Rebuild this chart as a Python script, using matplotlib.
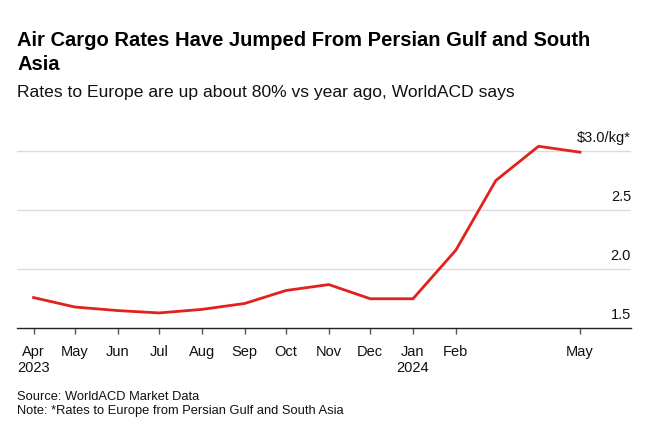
import datetime as dt
import matplotlib
matplotlib.use("Agg")
import matplotlib.pyplot as plt
import matplotlib.transforms as mtransforms

plt.rcParams['font.family'] = ['Liberation Sans', 'DejaVu Sans']

# Monthly rates, Apr 2023 - May 2024 ($/kg)
months = ["2023-04", "2023-05", "2023-06", "2023-07", "2023-08", "2023-09", "2023-10",
          "2023-11", "2023-12", "2024-01", "2024-02", "2024-03", "2024-04", "2024-05"]
rates = [1.76, 1.68, 1.65, 1.63, 1.66, 1.71, 1.82, 1.87, 1.75, 1.75, 2.16, 2.75, 3.04, 2.99]

tick_months = ["2023-04", "2023-05", "2023-06", "2023-07", "2023-08", "2023-09", "2023-10",
               "2023-11", "2023-12", "2024-01", "2024-02", "2024-05"]
tick_labels = ["Apr\n2023", "May", "Jun", "Jul", "Aug", "Sep", "Oct", "Nov", "Dec",
               "Jan\n2024", "Feb", "May"]

y_ticks = [1.5, 2.0, 2.5, 3.0]
y_labels = ["1.5", "2.0", "2.5", "$3.0/kg*"]

dates = [dt.datetime.strptime(m, "%Y-%m") for m in months]
tick_dates = [dt.datetime.strptime(m, "%Y-%m") for m in tick_months]

W, H = 660, 436
fig = plt.figure(figsize=(W / 100, H / 100), dpi=100)
ax = fig.add_axes([17 / W, 1 - 328.3 / H, (631 - 17) / W, (328.3 - 139.2) / H])

# gridlines
for v in y_ticks[1:]:
    ax.axhline(v, color='#dcdcdc', linewidth=1.0, zorder=1)

ax.plot(dates, rates, color='#e1211c', linewidth=2.0, solid_joinstyle='miter', zorder=3)

ax.set_xlim(dates[0] - dt.timedelta(days=12), dates[-1] + dt.timedelta(days=37))
ax.set_ylim(1.5, 3.1)

for s in ['top', 'right', 'left']:
    ax.spines[s].set_visible(False)
ax.spines['bottom'].set_color('#222222')
ax.spines['bottom'].set_linewidth(1.0)

ax.set_xticks(tick_dates)
ax.set_xticklabels(tick_labels, fontsize=10.5, color='#111111', linespacing=1.2)
ax.tick_params(axis='x', length=4, width=1, color='#555555', pad=8)
ax.set_yticks([])

# y labels above gridlines, right aligned
offset = mtransforms.offset_copy(ax.get_yaxis_transform(), fig=fig, x=0, y=6, units='dots')
for v, lab in zip(y_ticks, y_labels):
    ax.text(1.0, v, lab, transform=offset, ha='right', va='bottom',
            fontsize=10.5, color='#111111')

fig.text(17 / W, 1 - 46.5 / H, "Air Cargo Rates Have Jumped From Persian Gulf and South",
         fontsize=14.5, fontweight='bold', va='baseline', ha='left', color='#000000')
fig.text(17 / W, 1 - 69.5 / H, "Asia",
         fontsize=14.5, fontweight='bold', va='baseline', ha='left', color='#000000')
fig.text(17 / W, 1 - 96.5 / H, "Rates to Europe are up about 80% vs year ago, WorldACD says",
         fontsize=12.6, va='baseline', ha='left', color='#111111')
fig.text(17 / W, 1 - 399.5 / H, "Source: WorldACD Market Data",
         fontsize=9.3, va='baseline', ha='left', color='#111111')
fig.text(17 / W, 1 - 413.5 / H, "Note: *Rates to Europe from Persian Gulf and South Asia",
         fontsize=9.3, va='baseline', ha='left', color='#111111')

fig.savefig("out.png", dpi=100, facecolor='white')
